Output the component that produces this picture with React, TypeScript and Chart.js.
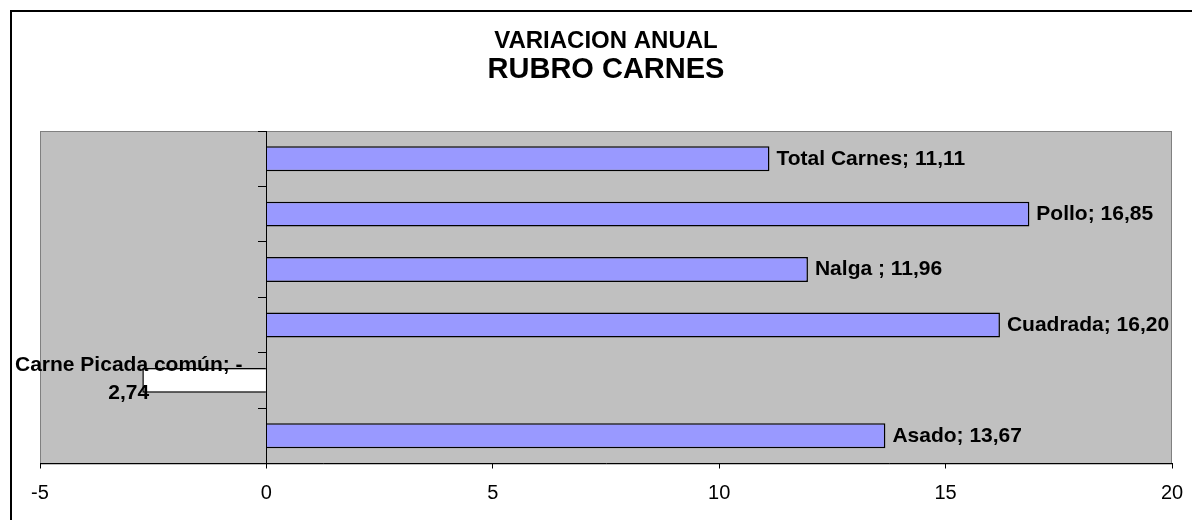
import React, { useEffect, useRef } from "react";
import { Chart, registerables } from "chart.js";

Chart.register(...registerables);

const categories = ["Asado", "Carne Picada común", "Cuadrada", "Nalga ", "Pollo", "Total Carnes"];
const values = [13.67, -2.74, 16.2, 11.96, 16.85, 11.11];
const barColors = ["#9999ff", "#ffffff", "#9999ff", "#9999ff", "#9999ff", "#9999ff"];
const titleLine1 = "VARIACION ANUAL";
const titleLine2 = "RUBRO CARNES";
const xMin = -5;
const xMax = 20;
const xStep = 5;

const FONT = "Arial, 'Liberation Sans', sans-serif";

const fmt = (v: number) => Math.abs(v).toFixed(2).replace(".", ",");

const framePlugin = {
  id: "frame",
  beforeDraw(chart: any) {
    const { ctx, chartArea, width, height } = chart;
    ctx.save();
    ctx.fillStyle = "#ffffff";
    ctx.fillRect(0, 0, width, height);
    ctx.strokeStyle = "#000000";
    ctx.lineWidth = 2;
    ctx.strokeRect(11, 11, width + 20, height + 20);
    ctx.fillStyle = "#c0c0c0";
    ctx.fillRect(chartArea.left, chartArea.top, chartArea.right - chartArea.left, chartArea.bottom - chartArea.top);
    ctx.strokeStyle = "#808080";
    ctx.lineWidth = 1;
    ctx.strokeRect(chartArea.left + 0.5, chartArea.top + 0.5, chartArea.right - chartArea.left - 1, chartArea.bottom - chartArea.top);
    ctx.restore();
  },
};

const labelPlugin = {
  id: "barLabels",
  afterDatasetsDraw(chart: any) {
    const { ctx } = chart;
    const meta = chart.getDatasetMeta(0);
    ctx.save();
    ctx.font = `bold 21px ${FONT}`;
    ctx.fillStyle = "#000000";
    ctx.textBaseline = "middle";
    meta.data.forEach((el: any, i: number) => {
      const v = values[i];
      const cat = categories[i];
      if (v >= 0) {
        ctx.textAlign = "left";
        ctx.fillText(`${cat}; ${fmt(v)}`, el.x + 7, el.y);
      } else {
        const l1 = `${cat}; -`;
        const l2 = fmt(v);
        const w = Math.max(ctx.measureText(l1).width, ctx.measureText(l2).width);
        const minLeft = 15;
        const cx = Math.max(minLeft + w / 2, el.x - 7 - w / 2);
        ctx.textAlign = "center";
        ctx.fillText(l1, cx, el.y - 15);
        ctx.fillText(l2, cx, el.y + 13);
      }
    });
    ctx.restore();
  },
};

export default function App() {
  const ref = useRef<HTMLCanvasElement | null>(null);
  useEffect(() => {
    if (!ref.current) return;
    Chart.defaults.font.family = FONT;
    const chart = new Chart(ref.current, {
      type: "bar",
      data: {
        labels: categories,
        datasets: [
          {
            data: values,
            backgroundColor: barColors,
            borderColor: "#000000",
            borderWidth: 1.5,
            categoryPercentage: 1,
            barPercentage: 0.45,
          },
        ],
      },
      options: {
        indexAxis: "y",
        animation: false,
        responsive: false,
        maintainAspectRatio: false,
        layout: { padding: { left: 40, right: 20, top: 0, bottom: 2.5 } },
        plugins: {
          legend: { display: false },
          tooltip: { enabled: false },
          title: {
            display: true,
            text: titleLine1,
            color: "#000",
            font: { size: 24, weight: "bold", lineHeight: 1 },
            padding: { top: 29.5, bottom: 0 },
          },
          subtitle: {
            display: true,
            text: titleLine2,
            color: "#000",
            font: { size: 29, weight: "bold", lineHeight: 1 },
            padding: { top: 1.5, bottom: 47 },
          },
        },
        scales: {
          x: {
            type: "linear",
            min: xMin,
            max: xMax,
            ticks: { stepSize: xStep, color: "#000", font: { size: 20 }, padding: 12.5 },
            grid: { drawOnChartArea: false, tickLength: 5, color: "#000" },
            border: { color: "#000" },
            afterFit: (scale: any) => {
              scale.paddingLeft = 0;
              scale.paddingRight = 0;
            },
          },
          y: {
            type: "category",
            reverse: true,
            position: { x: 0 } as any,
            ticks: { display: false },
            grid: { offset: true, drawOnChartArea: false, tickLength: 8, color: "#000" },
            border: { color: "#000" },
          },
        },
      },
      plugins: [framePlugin, labelPlugin],
    } as any);
    return () => chart.destroy();
  }, []);
  return (
    <div style={{ position: "fixed", left: 0, top: 0, width: 1192, height: 520 }}>
      <canvas ref={ref} width={1192} height={520} style={{ width: 1192, height: 520, display: "block" }} />
    </div>
  );
}
